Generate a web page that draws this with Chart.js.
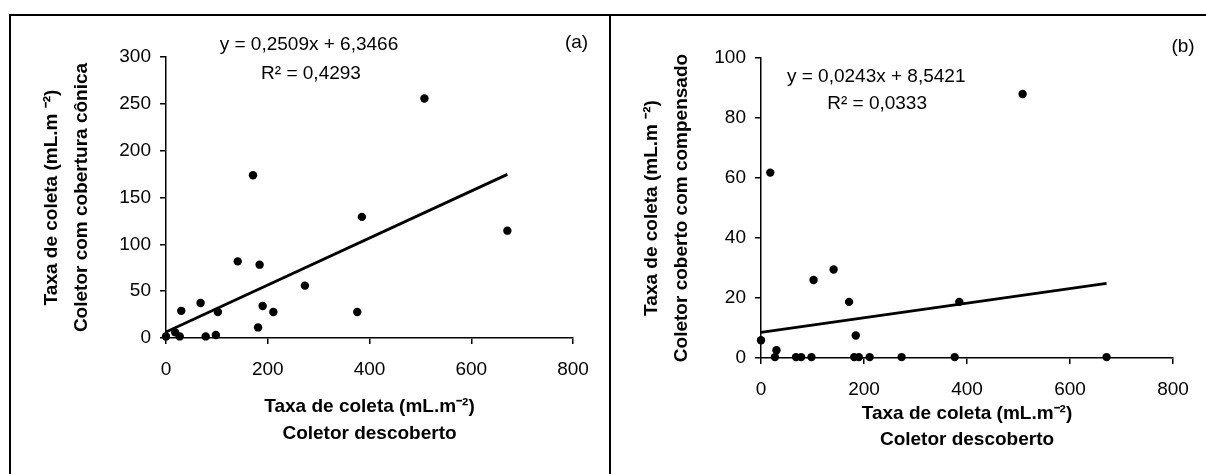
<!DOCTYPE html>
<html>
<head>
<meta charset="utf-8">
<script src="https://cdn.jsdelivr.net/npm/chart.js@4.4.0/dist/chart.umd.min.js"></script>
<style>
    html, body { margin: 0; padding: 0; background: #fff; }
    #wrap { position: relative; width: 1206px; height: 474px; overflow: hidden; }
    #frame { position: absolute; left: 9px; top: 14px; width: 1220px; height: 500px; border-left: 2px solid #000; border-top: 2px solid #000; }
    #divider { position: absolute; left: 609px; top: 14px; width: 2px; height: 470px; background: #000; }
    canvas { position: absolute; top: 0; }
    #chartA { left: 0; }
    #chartB { left: 605px; }
</style>
</head>
<body>
<div id="wrap">
    <div id="frame"></div>
    <div id="divider"></div>
    <canvas id="chartA" width="605" height="474"></canvas>
    <canvas id="chartB" width="601" height="474"></canvas>
</div>
<script>
// Taxa de coleta (mL.m-2), coletor descoberto (shared x values)
const coletorDescoberto = [0, 18, 27, 30, 68, 78, 98, 102, 141, 171, 181, 184, 190, 211, 273, 376, 385, 508, 671];
// (a) coletor com cobertura cônica
const coberturaConica = [1.7, 6, 1.7, 29, 37.4, 1.7, 3.2, 27.8, 81.8, 173.7, 11.3, 78.3, 34.2, 27.8, 55.9, 27.8, 129.3, 255.7, 114.6];
// (b) coletor coberto com compensado
const cobertoCompensado = [5.9, 61.8, 0.3, 2.6, 0.3, 0.3, 0.3, 26, 29.5, 18.7, 0.3, 7.5, 0.3, 0.3, 0.3, 0.3, 18.7, 88, 0.3];

// linear fits shown on the chart
const slopes = [0.2509, 0.0243];
const intercepts = [6.3466, 8.5421];
const fitRange = [0, 671];

const xTicks = [0, 200, 400, 600, 800];
const yTicksA = [0, 50, 100, 150, 200, 250, 300];
const yTicksB = [0, 20, 40, 60, 80, 100];

Chart.defaults.font.family = '"Liberation Sans", Arial, sans-serif';
Chart.defaults.color = '#000';

const textPlugin = {
    id: 'fitText',
    afterDatasetsDraw(chart, args, opts) {
        const { ctx, scales } = chart;
        ctx.save();
        ctx.font = '19px "Liberation Sans", Arial, sans-serif';
        ctx.fillStyle = '#000';
        ctx.textAlign = 'center';
        ctx.textBaseline = 'middle';
        opts.items.forEach(it => {
            ctx.fillText(it.text, scales.x.getPixelForValue(it.x), scales.y.getPixelForValue(it.y));
        });
        ctx.restore();
    }
};

function toPoints(xs, ys) {
    return xs.map((x, i) => ({ x: x, y: ys[i] }));
}

function fitLine(k) {
    return fitRange.map(x => ({ x: x, y: slopes[k] * x + intercepts[k] }));
}

function makeChart(id, cfg) {
    const ctx = document.getElementById(id).getContext('2d');
    return new Chart(ctx, {
        type: 'scatter',
        data: {
            datasets: [{
                data: toPoints(coletorDescoberto, cfg.values),
                backgroundColor: '#000',
                borderWidth: 0,
                pointRadius: 4.2,
                clip: false
            }, {
                data: fitLine(cfg.fit),
                showLine: true,
                borderColor: '#000',
                borderWidth: 2.8,
                pointRadius: 0,
                clip: false
            }]
        },
        options: {
            responsive: false,
            animation: false,
            layout: { padding: cfg.padding },
            plugins: {
                legend: { display: false },
                tooltip: { enabled: false },
                fitText: { items: cfg.text }
            },
            scales: {
                x: {
                    type: 'linear',
                    min: 0,
                    max: 800,
                    afterBuildTicks: s => { s.ticks = xTicks.map(v => ({ value: v })); },
                    ticks: { color: '#000', padding: 14, font: { size: 19 } },
                    grid: { drawOnChartArea: false, tickLength: 6, color: '#000', lineWidth: 1.5 },
                    border: { color: '#000', width: 1.5 },
                    title: {
                        display: true,
                        text: ['Taxa de coleta (mL.m⁻²)', 'Coletor descoberto'],
                        color: '#000',
                        font: { size: 19, weight: 'bold', lineHeight: cfg.xTitleLine },
                        padding: { top: 0, bottom: cfg.xTitlePad }
                    },
                    afterFit: s => { s.height = cfg.xHeight; }
                },
                y: {
                    type: 'linear',
                    min: 0,
                    max: cfg.yTicks[cfg.yTicks.length - 1],
                    afterBuildTicks: s => { s.ticks = cfg.yTicks.map(v => ({ value: v })); },
                    ticks: { color: '#000', padding: 9, font: { size: 19 } },
                    grid: { drawOnChartArea: false, tickLength: 6, color: '#000', lineWidth: 1.5 },
                    border: { color: '#000', width: 1.5 },
                    title: {
                        display: true,
                        text: ['Taxa de coleta (mL.m ⁻²)', cfg.yTitle],
                        color: '#000',
                        font: { size: 19, weight: 'bold', lineHeight: '30px' },
                        padding: { top: cfg.yTitlePad, bottom: 0 }
                    },
                    afterFit: s => { s.width = cfg.yWidth; }
                }
            }
        },
        plugins: [textPlugin]
    });
}

makeChart('chartA', {
    values: coberturaConica,
    fit: 0,
    yTicks: yTicksA,
    yTitle: 'Coletor com cobertura cônica',
    padding: { left: 0, right: 32, top: 57, bottom: 0 },
    yWidth: 166,
    yTitlePad: 37,
    xHeight: 136,
    xTitleLine: '27px',
    xTitlePad: 27,
    text: [
        { text: 'y = 0,2509x + 6,3466', x: 281, y: 313 },
        { text: 'R² = 0,4293', x: 285, y: 282 },
        { text: '(a)', x: 807, y: 315.5 }
    ]
});

makeChart('chartB', {
    values: cobertoCompensado,
    fit: 1,
    yTicks: yTicksB,
    yTitle: 'Coletor coberto com compensado',
    padding: { left: 0, right: 33, top: 58, bottom: 0 },
    yWidth: 156,
    yTitlePad: 32,
    xHeight: 116,
    xTitleLine: '26px',
    xTitlePad: 21,
    text: [
        { text: 'y = 0,0243x + 8,5421', x: 223.7, y: 93.9 },
        { text: 'R² = 0,0333', x: 225.4, y: 84.8 },
        { text: '(b)', x: 819.4, y: 103.9 }
    ]
});
</script>
</body>
</html>
